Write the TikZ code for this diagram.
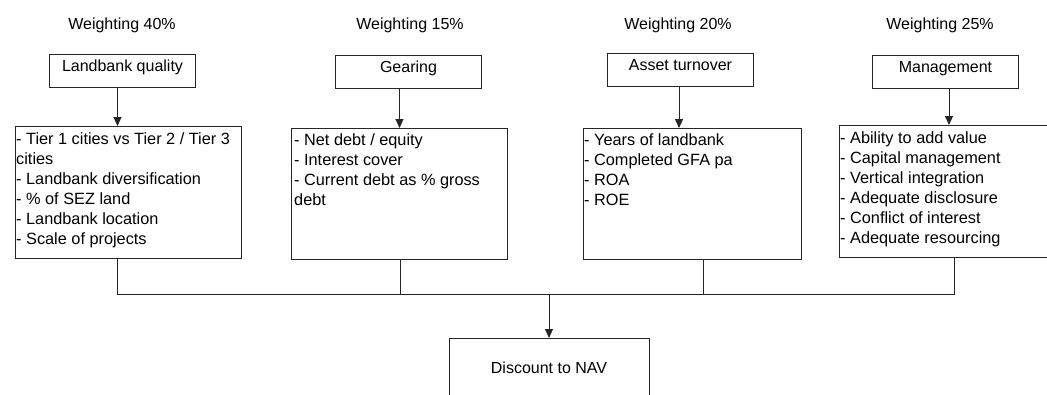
\documentclass[tikz,border=0pt]{standalone}
\usepackage{fontspec}
\setmainfont{Liberation Sans}
\usetikzlibrary{arrows.meta,calc}
\begin{document}
\begin{tikzpicture}[x=1pt,y=-1pt,
  every node/.style={font=\fontsize{16}{20}\selectfont},
  ln/.style={line width=1pt, draw=black!85},
  arr/.style={ln,-{Triangle[width=8pt,length=9pt]}},
  wt/.style={anchor=base, inner sep=0},
  hdr/.style={ln, rectangle, minimum width=146pt, minimum height=33pt, inner xsep=2pt, inner ysep=3pt, text height=14pt, text depth=13pt, anchor=north west},
  cbox/.style={ln, rectangle, inner sep=0, anchor=north west},
  ctext/.style={align=left, inner sep=0, anchor=north west, font=\fontsize{16.3}{20.1}\selectfont},
]
\clip (0,0) rectangle (1047,394);
\fill[white] (0,0) rectangle (1047,394);

% weighting labels
\node[wt] (w1) at (122,29) {Weighting 40\%};
\node[wt] (w2) at (410,29) {Weighting 15\%};
\node[wt] (w3) at (678,29) {Weighting 20\%};
\node[wt] (w4) at (940,29) {Weighting 25\%};

% header boxes
\node[hdr] (lqh) at (49,54) {Landbank quality};
\node[hdr] (geh) at (335,55) {Gearing};
\node[hdr] (ash) at (607,53) {Asset turnover};
\node[hdr] (mgh) at (872,55) {Management};

% content boxes
\node[cbox, minimum width=226pt, minimum height=132pt] (lqc) at (15,126) {};
\node[cbox, minimum width=216pt, minimum height=131pt] (gec) at (291,128) {};
\node[cbox, minimum width=218pt, minimum height=131pt] (asc) at (583,128) {};
\node[cbox, minimum width=211pt, minimum height=132pt] (mgc) at (839,125) {};

% content texts
\node[ctext] (lqt) at ($(lqc.north west)+(1,6)$) {- Tier 1 cities vs Tier 2 / Tier 3\\cities\\- Landbank diversification\\- \% of SEZ land\\- Landbank location\\- Scale of projects};
\node[ctext] (get) at ($(gec.north west)+(3,5)$) {- Net debt / equity\\- Interest cover\\- Current debt as \% gross\\debt};
\node[ctext] (ast) at ($(asc.north west)+(1,5)$) {- Years of landbank\\- Completed GFA pa\\- ROA\\- ROE};
\node[ctext] (mgt) at ($(mgc.north west)+(1,6)$) {- Ability to add value\\- Capital management\\- Vertical integration\\- Adequate disclosure\\- Conflict of interest\\- Adequate resourcing};

% arrows header -> content
\draw[arr] ([xshift=-5pt]lqh.south) -- ([xshift=-5pt]lqh.south |- lqc.north);
\draw[arr] ([xshift=-9pt]geh.south) -- ([xshift=-9pt]geh.south |- gec.north);
\draw[arr] ([xshift=-1.5pt]ash.south) -- ([xshift=-1.5pt]ash.south |- asc.north);
\draw[arr] ([xshift=3.5pt]mgh.south) -- ([xshift=3.5pt]mgh.south |- mgc.north);

% result
\node[ln, rectangle, minimum width=200pt, minimum height=58pt, inner sep=0, anchor=north] (nav) at (549,338) {Discount to NAV};
\coordinate (bus) at (549,294);

\draw[ln] ([xshift=-11pt]lqc.south) |- ([xshift=9pt]mgc.south |- bus) -- ([xshift=9pt]mgc.south);
\draw[ln] ([xshift=1pt]gec.south) -- ([xshift=1pt]gec.south |- bus);
\draw[ln] ([xshift=11pt]asc.south) -- ([xshift=11pt]asc.south |- bus);
\draw[arr] (bus) -- (nav.north);
\end{tikzpicture}
\end{document}
